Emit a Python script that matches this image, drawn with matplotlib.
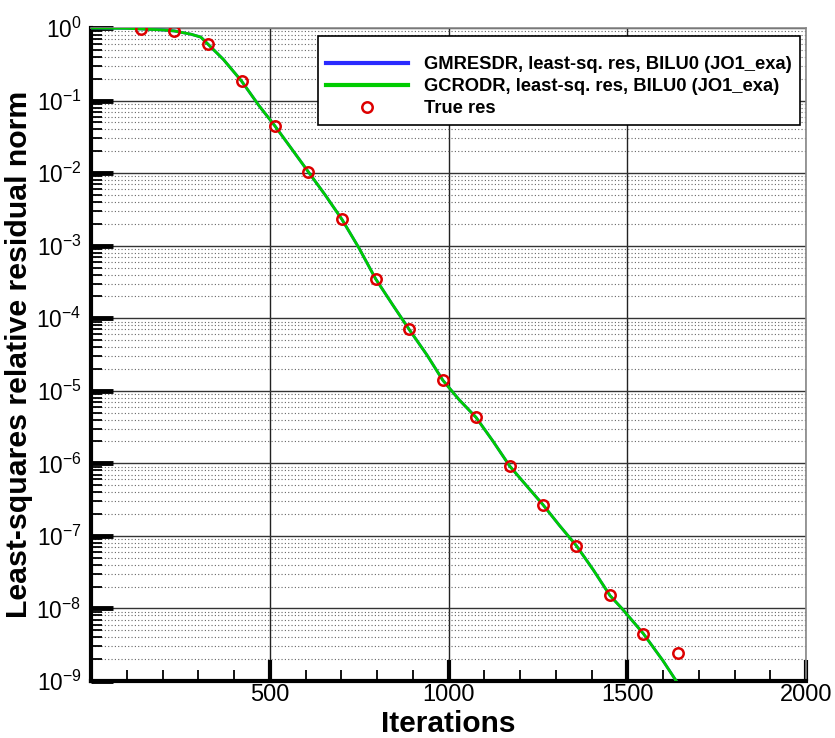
import matplotlib
matplotlib.use("Agg")
import matplotlib.pyplot as plt
from matplotlib.ticker import LogLocator, FixedLocator, MultipleLocator, NullFormatter, FuncFormatter
import numpy as np

plt.rcParams['font.family'] = ['Liberation Sans', 'DejaVu Sans']
plt.rcParams['mathtext.fontset'] = 'custom'
plt.rcParams['mathtext.rm'] = 'Liberation Sans'
plt.rcParams['mathtext.it'] = 'Liberation Sans:italic'
plt.rcParams['mathtext.bf'] = 'Liberation Sans:bold'

# least-squares residual curve (GMRESDR and GCRODR coincide)
line_iters = [0, 100, 140, 200, 233, 280, 307, 327, 370, 421, 470, 514, 560, 608, 655, 702,
              750, 796, 845, 890, 940, 984, 1030, 1077, 1125, 1171, 1220, 1264, 1310,
              1358, 1405, 1452, 1485, 1545, 1600, 1650]
line_res = [1.0, 0.99, 0.97, 0.94, 0.91, 0.82, 0.75, 0.60, 0.37, 0.186, 0.085, 0.045, 0.022,
            0.0104, 0.0050, 0.0023, 9.2e-4, 3.5e-4, 1.5e-4, 7.0e-5, 3.1e-5, 1.4e-5,
            7.5e-6, 4.3e-6, 2.0e-6, 9.2e-7, 4.8e-7, 2.7e-7, 1.4e-7, 7.3e-8, 3.4e-8,
            1.5e-8, 1.0e-8, 4.5e-9, 1.9e-9, 8.0e-10]

# true residual markers
true_iters = [140, 233, 327, 421, 514, 608, 702, 796, 890, 984, 1077, 1171, 1264, 1358,
              1452, 1545, 1642]
true_res = [0.97, 0.91, 0.60, 0.186, 0.045, 0.0104, 0.0023, 3.5e-4, 7.0e-5, 1.4e-5,
            4.3e-6, 9.2e-7, 2.7e-7, 7.3e-8, 1.55e-8, 4.5e-9, 2.4e-9]

labels = ["GMRESDR, least-sq. res, BILU0 (JO1_exa)",
          "GCRODR, least-sq. res, BILU0 (JO1_exa)",
          "True res"]

fig = plt.figure(figsize=(8.35, 7.38), dpi=100)
ax = fig.add_axes([91/835, 1-681/738, (806-91)/835, (681-28)/738])

ax.plot(line_iters, line_res, color='#2a2aff', lw=2.0, label=labels[0], zorder=3)
ax.plot(line_iters, line_res, color='#00cc00', lw=2.0, label=labels[1], zorder=4)
ax.plot(true_iters, true_res, ls='none', marker='o', ms=7.5, mfc='none', mec='#dd0000',
        mew=1.8, label=labels[2], zorder=5)

ax.set_yscale('log')
ax.set_xlim(0, 2000)
ax.set_ylim(1e-9, 1.0)

ax.xaxis.set_major_locator(FixedLocator([500, 1000, 1500, 2000]))
ax.xaxis.set_minor_locator(MultipleLocator(100))
ax.yaxis.set_major_locator(LogLocator(base=10, numticks=20))
ax.yaxis.set_minor_locator(LogLocator(base=10, subs=np.arange(2, 10), numticks=20))
ax.yaxis.set_minor_formatter(NullFormatter())
ax.yaxis.set_major_formatter(FuncFormatter(lambda v, p: r'$10^{%d}$' % int(round(np.log10(v)))))

ax.tick_params(axis='x', which='major', direction='in', length=15, width=3, labelsize=17, pad=2)
ax.tick_params(axis='x', which='minor', direction='in', length=8, width=1.3)
ax.tick_params(axis='y', which='major', direction='in', length=16, width=3.5, labelsize=16.3, pad=7)
ax.tick_params(axis='y', which='minor', direction='in', length=8, width=1.3)

ax.grid(which='major', axis='x', color='#222222', lw=1.0)
ax.grid(which='major', axis='y', color='#333333', lw=1.0)
ax.grid(which='minor', axis='y', color='#666666', lw=0.8, ls=(0, (1, 2)))
ax.set_axisbelow(True)

for s in ['left', 'bottom']:
    ax.spines[s].set_linewidth(3)
    ax.spines[s].set_color('black')
for s in ['top', 'right']:
    ax.spines[s].set_linewidth(1.2)
    ax.spines[s].set_color('#888888')

ax.set_xlabel('Iterations', fontsize=21.5, fontweight='bold', labelpad=3)
ax.set_ylabel('Least-squares relative residual norm', fontsize=21.8, fontweight='bold', labelpad=2)

leg = ax.legend(loc='upper right', bbox_to_anchor=((800-91)/715, 1-(36-28)/653),
                borderaxespad=0, fancybox=False, framealpha=1, edgecolor='black',
                prop={'weight': 'bold', 'size': 13.2}, handlelength=4.5, handletextpad=0.85,
                labelspacing=0.27, borderpad=0.45, numpoints=1,
                title=' ', title_fontsize=5)
leg.get_frame().set_linewidth(1.2)
for h in leg.get_lines()[:2]:
    h.set_linewidth(3)

fig.savefig('out.png', dpi=100)
